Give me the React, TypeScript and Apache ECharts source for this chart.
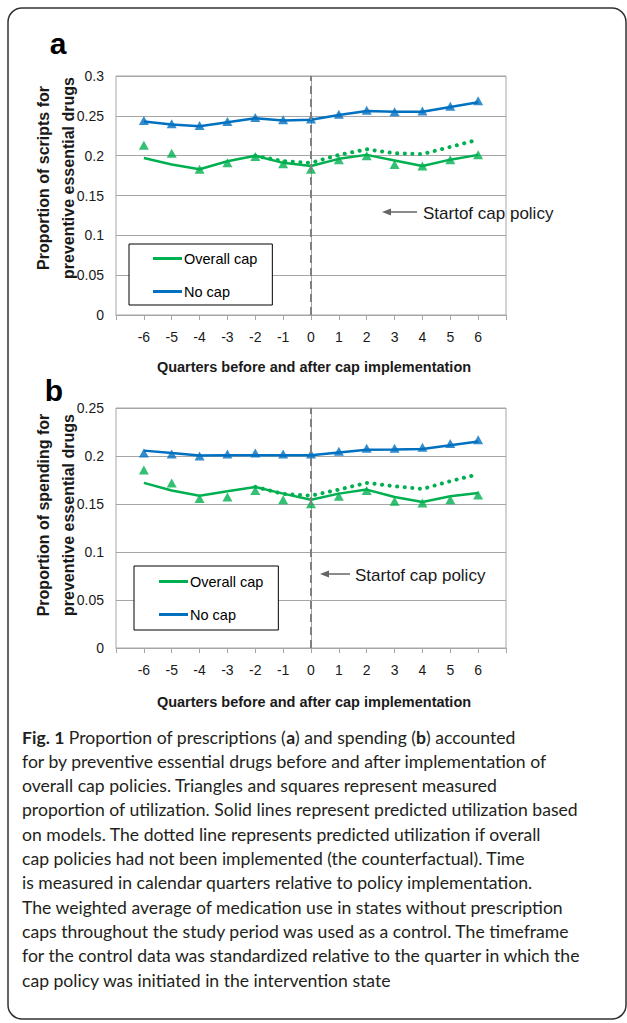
import React, { useEffect, useRef } from "react";
import * as echarts from "echarts";

// ---------- data ----------
const quarters = [-6, -5, -4, -3, -2, -1, 0, 1, 2, 3, 4, 5, 6];
const counterfactualQuarters = [-2, -1, 0, 1, 2, 3, 4, 5, 6];

// Panel a: proportion of scripts
const aNoCapPredicted = [0.243, 0.239, 0.237, 0.242, 0.247, 0.244, 0.245, 0.251, 0.256, 0.255, 0.255, 0.261, 0.267];
const aNoCapMeasured = [0.244, 0.240, 0.238, 0.243, 0.248, 0.245, 0.246, 0.252, 0.257, 0.255, 0.256, 0.262, 0.269];
const aOverallPredicted = [0.197, 0.189, 0.183, 0.193, 0.200, 0.191, 0.187, 0.196, 0.201, 0.194, 0.187, 0.195, 0.201];
const aOverallMeasured = [0.213, 0.203, 0.183, 0.191, 0.199, 0.190, 0.183, 0.195, 0.200, 0.189, 0.187, 0.195, 0.201];
const aCounterfactual = [0.200, 0.193, 0.191, 0.201, 0.208, 0.203, 0.202, 0.211, 0.220];

// Panel b: proportion of spending
const bNoCapPredicted = [0.2056, 0.203, 0.2005, 0.2007, 0.2007, 0.2007, 0.2007, 0.2036, 0.2064, 0.2067, 0.2074, 0.2113, 0.215];
const bNoCapMeasured = [0.203, 0.202, 0.200, 0.202, 0.203, 0.202, 0.202, 0.205, 0.208, 0.208, 0.209, 0.213, 0.217];
const bOverallPredicted = [0.172, 0.164, 0.1587, 0.1633, 0.1678, 0.1608, 0.1545, 0.1608, 0.165, 0.1573, 0.152, 0.158, 0.1615];
const bOverallMeasured = [0.1855, 0.172, 0.1556, 0.1573, 0.164, 0.1545, 0.1503, 0.158, 0.164, 0.1528, 0.151, 0.1545, 0.1594];
const bCounterfactual = [0.1678, 0.1605, 0.1587, 0.165, 0.172, 0.1685, 0.1657, 0.1738, 0.181];

const legendNames = ["Overall cap", "No cap"];
const aYTitle = "Proportion of scripts for\npreventive essential drugs";
const bYTitle = "Proportion of spending for\npreventive essential drugs";
const xTitle = "Quarters before and after cap implementation";
const annotationText = "Startof cap policy";
const captionLines = [
  "{b|Fig. 1} Proportion of prescriptions ({b|a}) and spending ({b|b}) accounted",
  "for by preventive essential drugs before and after implementation of",
  "overall cap policies. Triangles and squares represent measured",
  "proportion of utilization. Solid lines represent predicted utilization based",
  "on models. The dotted line represents predicted utilization if overall",
  "cap policies had not been implemented (the counterfactual). Time",
  "is measured in calendar quarters relative to policy implementation.",
  "The weighted average of medication use in states without prescription",
  "caps throughout the study period was used as a control. The timeframe",
  "for the control data was standardized relative to the quarter in which the",
  "cap policy was initiated in the intervention state",
];

// ---------- styles ----------
const FONT = '"Liberation Sans", Arial, Helvetica, sans-serif';
const CAPTION_FONT = 'Lato, "Open Sans", sans-serif';
const CAPTION_SIZE = 17.6;
const BLUE = "#0070C0";
const GREEN = "#00B050";
const GRID_GRAY = "#a6a6a6";
const TEXT = "#1a1a1a";

const pairs = (xs: number[], ys: number[]) => xs.map((x, i) => [x, ys[i]]);
const fmt = (v: number) => String(parseFloat(v.toFixed(2)));

function panelSeries(
  idx: number,
  noCapPred: number[],
  noCapMeas: number[],
  overallPred: number[],
  overallMeas: number[],
  counter: number[]
) {
  const common = { xAxisIndex: idx, yAxisIndex: idx };
  return [
    {
      ...common,
      name: "No cap",
      type: "line",
      symbol: "none",
      data: pairs(quarters, noCapPred),
      lineStyle: { color: BLUE, width: 2.5 },
      itemStyle: { color: BLUE },
      z: 3,
    },
    {
      ...common,
      name: "Overall cap",
      type: "line",
      symbol: "none",
      data: pairs(quarters, overallPred),
      lineStyle: { color: GREEN, width: 2.5 },
      itemStyle: { color: GREEN },
      z: 3,
      markLine: {
        silent: true,
        symbol: ["none", "none"],
        label: { show: false },
        lineStyle: { color: "#7f7f7f", type: [8, 5], width: 2 },
        data: [{ xAxis: 0 }],
      },
    },
    {
      ...common,
      name: "Overall cap counterfactual",
      type: "line",
      symbol: "none",
      data: pairs(counterfactualQuarters, counter),
      lineStyle: { color: GREEN, width: 4, type: [0.1, 7.5], cap: "round" },
      itemStyle: { color: GREEN },
      z: 3,
    },
    {
      ...common,
      name: "No cap measured",
      type: "scatter",
      symbol: "triangle",
      symbolSize: [10, 9],
      data: pairs(quarters, noCapMeas),
      itemStyle: { color: BLUE },
      z: 4,
    },
    {
      ...common,
      name: "Overall cap measured",
      type: "scatter",
      symbol: "triangle",
      symbolSize: [10, 9],
      data: pairs(quarters, overallMeas),
      itemStyle: { color: GREEN },
      z: 4,
    },
  ];
}

function xAxisCfg(idx: number) {
  return {
    gridIndex: idx,
    type: "value",
    min: -7,
    max: 7,
    interval: 1,
    axisLine: { show: true, lineStyle: { color: GRID_GRAY, width: 1 } },
    axisTick: { show: true, length: 5, lineStyle: { color: GRID_GRAY } },
    splitLine: { show: false },
    axisLabel: {
      formatter: (v: number) => (v < -6 || v > 6 ? "" : String(v)),
      fontSize: 14,
      fontFamily: FONT,
      color: TEXT,
      margin: 15,
    },
  };
}

function yAxisCfg(idx: number, max: number) {
  return {
    gridIndex: idx,
    type: "value",
    min: 0,
    max,
    interval: 0.05,
    axisLine: { show: true, lineStyle: { color: GRID_GRAY, width: 1 } },
    axisTick: { show: true, length: 4, lineStyle: { color: GRID_GRAY } },
    splitLine: { show: true, lineStyle: { color: GRID_GRAY, width: 1 } },
    axisLabel: {
      formatter: fmt,
      fontSize: 14,
      fontFamily: FONT,
      color: TEXT,
      margin: 12,
    },
  };
}

function legendCfg(left: number, top: number, pad: number[]) {
  return {
    data: legendNames,
    orient: "vertical",
    left,
    top,
    padding: pad,
    icon: "rect",
    itemWidth: 29,
    itemHeight: 3,
    itemGap: 18,
    borderColor: "#000",
    borderWidth: 1,
    backgroundColor: "#fff",
    selectedMode: false,
    textStyle: { fontSize: 14.5, fontFamily: FONT, color: "#000", lineHeight: 14, padding: [0, 0, 0, -3] },
  };
}

function arrowAnnotation(tipX: number, tailX: number, y: number, textX: number) {
  return [
    {
      type: "line",
      shape: { x1: tipX + 7, y1: y, x2: tailX, y2: y },
      style: { stroke: "#666", lineWidth: 1.5 },
      z: 10,
    },
    {
      type: "polygon",
      shape: { points: [[tipX, y], [tipX + 9, y - 3.5], [tipX + 9, y + 3.5]] },
      style: { fill: "#666" },
      z: 10,
    },
    {
      type: "text",
      x: textX,
      y: y + 1,
      style: { text: annotationText, fontSize: 17, fontFamily: FONT, fill: TEXT, align: "left", verticalAlign: "middle" },
      z: 10,
    },
  ];
}

function yTitle(text: string, cx: number, cy: number) {
  return {
    type: "text",
    x: cx,
    y: cy,
    rotation: Math.PI / 2,
    style: {
      text,
      fontSize: 16,
      fontWeight: "bold",
      fontFamily: FONT,
      fill: TEXT,
      align: "center",
      verticalAlign: "middle",
      lineHeight: 25,
    },
  };
}

function xTitleEl(cx: number, cy: number) {
  return {
    type: "text",
    x: cx,
    y: cy,
    style: {
      text: xTitle,
      fontSize: 14.5,
      fontWeight: "bold",
      fontFamily: FONT,
      fill: TEXT,
      align: "center",
      verticalAlign: "middle",
    },
  };
}

function panelLetter(text: string, x: number, y: number) {
  return {
    type: "text",
    x,
    y,
    style: { text, fontSize: 30, fontWeight: "bold", fontFamily: FONT, fill: "#000", align: "center", verticalAlign: "middle" },
  };
}

export default function App() {
  const ref = useRef<HTMLDivElement>(null);

  useEffect(() => {
    if (!ref.current) return;
    const chart = echarts.init(ref.current, null, { renderer: "svg" });

    const captionEls = captionLines.map((line, i) => ({
      type: "text",
      x: 22,
      y: 737 + i * 24.3,
      style: {
        text: line,
        fontSize: CAPTION_SIZE,
        fontFamily: CAPTION_FONT,
        fill: "#231f20",
        align: "left",
        verticalAlign: "middle",
        rich: { b: { fontWeight: "bold", fontSize: CAPTION_SIZE, fontFamily: CAPTION_FONT, fill: "#231f20" } },
      },
    }));

    chart.setOption({
      animation: false,
      backgroundColor: "#fff",
      grid: [
        { left: 116, top: 76, width: 390, height: 239, show: true, borderColor: GRID_GRAY, borderWidth: 1, backgroundColor: "transparent" },
        { left: 116, top: 408, width: 390, height: 240, show: true, borderColor: GRID_GRAY, borderWidth: 1, backgroundColor: "transparent" },
      ],
      xAxis: [xAxisCfg(0), xAxisCfg(1)],
      yAxis: [yAxisCfg(0, 0.3), yAxisCfg(1, 0.25)],
      legend: [legendCfg(129, 244, [7, 15, 6, 24]), legendCfg(134, 566, [8, 15, 8, 25])],
      series: [
        ...panelSeries(0, aNoCapPredicted, aNoCapMeasured, aOverallPredicted, aOverallMeasured, aCounterfactual),
        ...panelSeries(1, bNoCapPredicted, bNoCapMeasured, bOverallPredicted, bOverallMeasured, bCounterfactual),
      ],
      graphic: [
        {
          type: "rect",
          shape: { x: 8, y: 8, width: 618, height: 1011, r: 14 },
          style: { fill: "none", stroke: "#333", lineWidth: 1.5 },
          silent: true,
        },
        panelLetter("a", 58, 43),
        panelLetter("b", 54, 390),
        yTitle(aYTitle, 55.5, 178),
        yTitle(bYTitle, 55.5, 515),
        xTitleEl(314, 367),
        xTitleEl(314, 702),
        ...arrowAnnotation(382, 417, 212, 423),
        ...arrowAnnotation(320, 350, 574, 355),
        ...captionEls,
      ],
    });

    return () => chart.dispose();
  }, []);

  return (
    <div
      ref={ref}
      style={{ position: "absolute", left: 0, top: 0, width: 627, height: 1023 }}
    />
  );
}
